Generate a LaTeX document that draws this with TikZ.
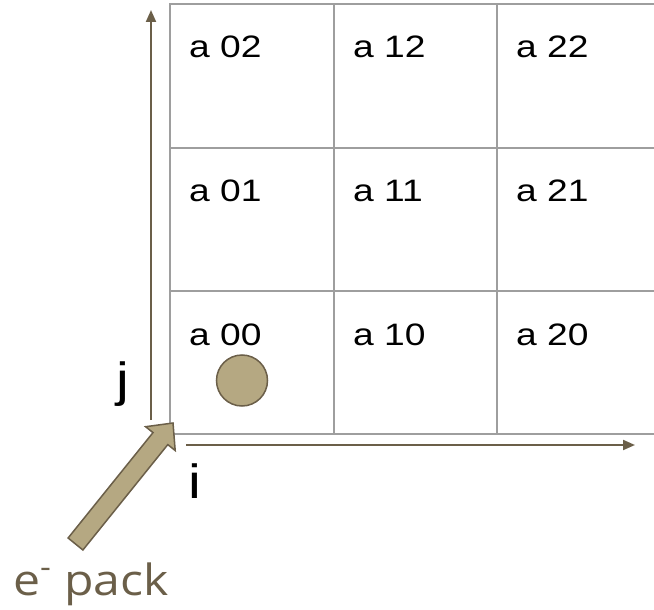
\documentclass[tikz,border=0pt]{standalone}
\usepackage{fontspec}
\setmainfont{Liberation Sans}
\newfontfamily\packfont{Open Sans}
\usetikzlibrary{arrows.meta}

\definecolor{gridgray}{HTML}{9E9E9E}
\definecolor{axisbrown}{HTML}{6B5F49}
\definecolor{khaki}{HTML}{B5A882}

\tikzset{
  gridline/.style={draw=gridgray, line width=2pt},
  axis/.style={draw=axisbrown, line width=2pt,
    -{Triangle[length=12pt, width=10pt]}},
  celltext/.style={anchor=base west, inner sep=0pt,
    font=\fontsize{31}{31}\selectfont, xscale=1.2},
  axistext/.style={anchor=base west, inner sep=0pt,
    font=\fontsize{48}{48}\selectfont, xscale=1.2},
  packtext/.style={anchor=base west, inner sep=0pt, text=axisbrown,
    font=\packfont\fontsize{43}{43}\selectfont, xscale=1.12},
  packet/.style={draw=axisbrown, fill=khaki, line width=1.5pt},
}

\begin{document}
\begin{tikzpicture}[x=1pt, y=-1pt]
  \useasboundingbox (0,0) rectangle (654,610);

  % 3x3 grid of cells, right side runs off the page
  \draw[gridline] (654,4) -- (170,4) -- (170,434) -- (654,434);
  \draw[gridline] (170,147.5) -- (654,147.5);
  \draw[gridline] (170,291) -- (654,291);
  \draw[gridline] (334,4) -- (334,434);
  \draw[gridline] (497,4) -- (497,434);

  % cell labels
  \node[celltext] (a02) at (189,58)    {a 02};
  \node[celltext] (a12) at (353,58)    {a 12};
  \node[celltext] (a22) at (516,58)    {a 22};
  \node[celltext] (a01) at (189,201.5) {a 01};
  \node[celltext] (a11) at (353,201.5) {a 11};
  \node[celltext] (a21) at (516,201.5) {a 21};
  \node[celltext] (a00) at (189,345)   {a 00};
  \node[celltext] (a10) at (353,345)   {a 10};
  \node[celltext] (a20) at (516,345)   {a 20};

  % axes
  \coordinate (jstart) at (151,420);
  \coordinate (jend)   at (151,10);
  \coordinate (istart) at (186,445);
  \coordinate (iend)   at (635,445);
  \draw[axis] (jstart) -- (jend);
  \draw[axis] (istart) -- (iend);
  \node[axistext] (jlabel) at (116,396) {j};
  \node[axistext] (ilabel) at (188,498) {i};

  % electron packet in cell a00
  \node[packet, circle, minimum size=51pt, inner sep=0pt] (packet) at (242,380.5) {};

  % incoming packet arrow
  \node[packtext] (epack) at (13,595)
    {e\textsuperscript{\raisebox{8pt}{-}} pack};
  \coordinate (tailL) at (68.1,538);
  \coordinate (tailR) at (82.9,550);
  \coordinate (neckR) at (167.8,444.6);
  \coordinate (headR) at (175.2,450.5);
  \coordinate (tip)   at (173,423);
  \coordinate (headL) at (145.6,426.7);
  \coordinate (neckL) at (153,432.6);
  \draw[packet, line join=miter] (tailL) -- (tailR) -- (neckR) -- (headR)
    -- (tip) -- (headL) -- (neckL) -- cycle;
\end{tikzpicture}
\end{document}
